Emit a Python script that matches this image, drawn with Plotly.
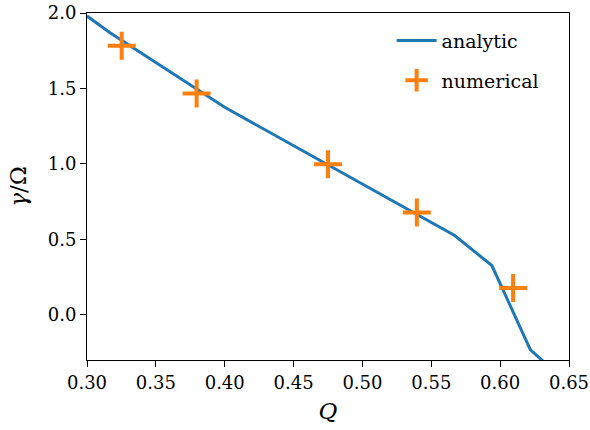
import plotly.graph_objects as go

# analytic curve vertices
q_analytic = [0.300, 0.317, 0.400, 0.567, 0.594, 0.622, 0.634]
g_analytic = [1.98, 1.867, 1.375, 0.525, 0.326, -0.233, -0.33]

# numerical points
q_numerical = [0.3252, 0.3796, 0.475, 0.5395, 0.6094]
g_numerical = [1.783, 1.466, 0.997, 0.678, 0.177]

x_ticks = [0.30, 0.35, 0.40, 0.45, 0.50, 0.55, 0.60, 0.65]
y_ticks = [0.0, 0.5, 1.0, 1.5, 2.0]

FONT = "DejaVu Serif"

fig = go.Figure()
fig.add_trace(go.Scatter(x=q_analytic, y=g_analytic, mode="lines", name="analytic",
                         legendgroup="a",
                         line=dict(color="#1f77b4", width=3)))
fig.add_trace(go.Scatter(x=q_numerical, y=g_numerical, mode="markers", name="numerical",
                         legendgroup="b",
                         marker=dict(symbol="cross-thin", size=20, color="#ff7f0e",
                                     line=dict(color="#ff7f0e", width=4))))

axis_common = dict(showline=True, linecolor="black", linewidth=1, mirror=True,
                   ticks="outside", ticklen=6, tickcolor="black", tickwidth=1,
                   showgrid=False, zeroline=False, automargin=False,
                   tickfont=dict(family=FONT, size=18, color="black"))

fig.update_layout(
    width=590, height=430,
    margin=dict(l=87, r=21, t=13, b=70),
    plot_bgcolor="white", paper_bgcolor="white",
    xaxis=dict(range=[0.30, 0.65], tickvals=x_ticks,
               ticktext=[f"{v:.2f}" for v in x_ticks],
               title=dict(text="<i>Q</i>", font=dict(family=FONT, size=23, color="black"), standoff=11),
               **axis_common),
    yaxis=dict(range=[-0.3, 2.0], tickvals=y_ticks,
               ticktext=[f"{v:.1f}" for v in y_ticks],
               title=dict(text="<i>γ</i>/Ω", font=dict(family=FONT, size=23, color="black"), standoff=14),
               **axis_common),
    legend=dict(x=0.632, y=0.975, xanchor="left", yanchor="top",
                font=dict(family=FONT, size=19, color="black"),
                bgcolor="rgba(255,255,255,0)", itemwidth=40, tracegroupgap=12),
    showlegend=True,
)

fig.write_html("out.html", config={"displayModeBar": False},
               post_script="document.body.style.margin='0';document.body.style.padding='0';")
